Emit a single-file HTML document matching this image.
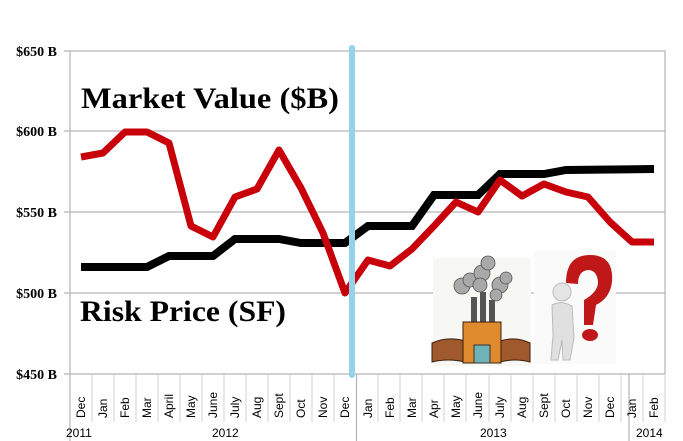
<!DOCTYPE html>
<html><head><meta charset="utf-8"><style>
html,body{margin:0;padding:0;background:#fff;}
svg{display:block;}
</style></head><body>
<svg width="683" height="441" viewBox="0 0 683 441" xmlns="http://www.w3.org/2000/svg">
<rect width="683" height="441" fill="#fff"/>
<g stroke="#b4b4b4" stroke-width="1.2" fill="none">
<line x1="64" y1="51" x2="665" y2="51"/>
<line x1="64" y1="131" x2="665" y2="131"/>
<line x1="64" y1="212" x2="665" y2="212"/>
<line x1="64" y1="293" x2="665" y2="293"/>
<line x1="64" y1="374" x2="665" y2="374"/>
<line x1="70" y1="51" x2="70" y2="441"/>
<line x1="665" y1="51" x2="665" y2="374"/>
<line x1="356.5" y1="374" x2="356.5" y2="441"/>
<line x1="629" y1="374" x2="629" y2="441"/>
</g>
<g stroke="#d0d0d0" stroke-width="1">
<line x1="92" y1="374" x2="92" y2="422"/><line x1="114" y1="374" x2="114" y2="422"/>
<line x1="136" y1="374" x2="136" y2="422"/><line x1="158" y1="374" x2="158" y2="422"/>
<line x1="180" y1="374" x2="180" y2="422"/><line x1="202" y1="374" x2="202" y2="422"/>
<line x1="224" y1="374" x2="224" y2="422"/><line x1="246" y1="374" x2="246" y2="422"/>
<line x1="268" y1="374" x2="268" y2="422"/><line x1="290" y1="374" x2="290" y2="422"/>
<line x1="312" y1="374" x2="312" y2="422"/><line x1="334" y1="374" x2="334" y2="422"/>
<line x1="378" y1="374" x2="378" y2="422"/><line x1="400" y1="374" x2="400" y2="422"/>
<line x1="422" y1="374" x2="422" y2="422"/><line x1="444" y1="374" x2="444" y2="422"/>
<line x1="466" y1="374" x2="466" y2="422"/><line x1="489" y1="374" x2="489" y2="422"/>
<line x1="511" y1="374" x2="511" y2="422"/><line x1="533" y1="374" x2="533" y2="422"/>
<line x1="555" y1="374" x2="555" y2="422"/><line x1="577" y1="374" x2="577" y2="422"/>
<line x1="599" y1="374" x2="599" y2="422"/><line x1="621" y1="374" x2="621" y2="422"/>
<line x1="643" y1="374" x2="643" y2="422"/><line x1="665" y1="374" x2="665" y2="422"/>
</g>
<g font-family="Liberation Serif, serif" font-weight="bold" font-size="14" text-anchor="end" fill="#000">
<text x="57" y="56">$650 B</text>
<text x="57" y="136">$600 B</text>
<text x="57" y="217">$550 B</text>
<text x="57" y="298">$500 B</text>
<text x="57" y="379">$450 B</text>
</g>
<g font-family="Liberation Sans, sans-serif" font-size="12" fill="#000">
<text transform="translate(85,418) rotate(-90)">Dec</text>
<text transform="translate(107,418) rotate(-90)">Jan</text>
<text transform="translate(129,418) rotate(-90)">Feb</text>
<text transform="translate(151,418) rotate(-90)">Mar</text>
<text transform="translate(173,418) rotate(-90)">April</text>
<text transform="translate(195,418) rotate(-90)">May</text>
<text transform="translate(217,418) rotate(-90)">June</text>
<text transform="translate(239,418) rotate(-90)">July</text>
<text transform="translate(261,418) rotate(-90)">Aug</text>
<text transform="translate(283,418) rotate(-90)">Sept</text>
<text transform="translate(305,418) rotate(-90)">Oct</text>
<text transform="translate(327,418) rotate(-90)">Nov</text>
<text transform="translate(349,418) rotate(-90)">Dec</text>
<text transform="translate(372,418) rotate(-90)">Jan</text>
<text transform="translate(394,418) rotate(-90)">Feb</text>
<text transform="translate(416,418) rotate(-90)">Mar</text>
<text transform="translate(438,418) rotate(-90)">Apr</text>
<text transform="translate(460,418) rotate(-90)">May</text>
<text transform="translate(482,418) rotate(-90)">June</text>
<text transform="translate(504,418) rotate(-90)">July</text>
<text transform="translate(526,418) rotate(-90)">Aug</text>
<text transform="translate(548,418) rotate(-90)">Sept</text>
<text transform="translate(570,418) rotate(-90)">Oct</text>
<text transform="translate(592,418) rotate(-90)">Nov</text>
<text transform="translate(614,418) rotate(-90)">Dec</text>
<text transform="translate(636,418) rotate(-90)">Jan</text>
<text transform="translate(658,418) rotate(-90)">Feb</text>
<text x="66" y="437">2011</text>
<text x="212" y="437">2012</text>
<text x="480" y="437">2013</text>
<text x="636" y="437">2014</text>
</g>
<!-- pictures -->
<rect x="433" y="258" width="98" height="108" fill="#f7f7f4"/>
<g fill="#a9a9a9" stroke="#555" stroke-width="0.8">
<circle cx="462" cy="286" r="8"/><circle cx="470" cy="280" r="7"/>
<circle cx="482" cy="273" r="8"/><circle cx="488" cy="263" r="7"/><circle cx="480" cy="285" r="7"/>
<circle cx="500" cy="285" r="8"/><circle cx="506" cy="278" r="6"/><circle cx="496" cy="295" r="6"/>
</g>
<rect x="471" y="297" width="6" height="28" fill="#555"/>
<rect x="480" y="292" width="6" height="33" fill="#555"/>
<rect x="489" y="300" width="6" height="25" fill="#555"/>
<path d="M432 343 Q448 336 465 341 L465 362 Q448 358 432 362 Z" fill="#a0592c" stroke="#3a1f0c"/>
<path d="M500 341 Q515 336 530 343 L530 362 Q515 358 500 362 Z" fill="#a0592c" stroke="#3a1f0c"/>
<rect x="463" y="322" width="38" height="41" fill="#e08a2e" stroke="#3a1f0c"/>
<rect x="474" y="345" width="16" height="18" fill="#6fb3b8" stroke="#333"/>
<rect x="534" y="250" width="82" height="114" fill="#fafafa"/>
<path d="M566 283 Q566 255 590 255 Q614 255 612 282 Q610 298 596 305 L593 325 L584 325 L584 300 Q598 292 598 282 Q597 270 588 270 Q578 271 578 284 Z" fill="#c01818"/>
<ellipse cx="590" cy="335" rx="8" ry="6" fill="#c01818"/>
<circle cx="562" cy="292" r="9" fill="#e4e4e4" stroke="#bbb"/>
<path d="M552 305 Q562 300 572 306 L574 338 L570 360 L563 360 L562 340 L558 360 L551 360 L553 335 Z" fill="#e0e0e0" stroke="#bbb"/>
<!-- series -->
<polyline fill="none" stroke="#000" stroke-width="8" stroke-linejoin="miter" points="81,267 147,267 169,256 213,256 235,239 279,239 301,243 345,243 368,226 412,226 434,195 478,195 500,174 544,174 566,170 654,169"/>
<polyline fill="none" stroke="#c8000a" stroke-width="7" stroke-linejoin="round" points="81,157 103,153 125,132 147,132 169,143 191,226 213,237 235,197 257,189 279,150 301,188 323,233 345,293 368,260 390,266 412,249 434,226 456,202 478,212 500,180 522,196 544,184 566,192 588,197 610,222 632,242 654,242"/>
<rect x="349" y="45" width="6" height="333" rx="3" fill="#93d3e9"/>
<g font-family="Liberation Serif, serif" font-weight="bold" fill="#000">
<text x="81" y="108" font-size="30" textLength="258" lengthAdjust="spacingAndGlyphs">Market Value ($B)</text>
<text x="80" y="321" font-size="30" textLength="206" lengthAdjust="spacingAndGlyphs">Risk Price (SF)</text>
</g>
</svg>
</body></html>
